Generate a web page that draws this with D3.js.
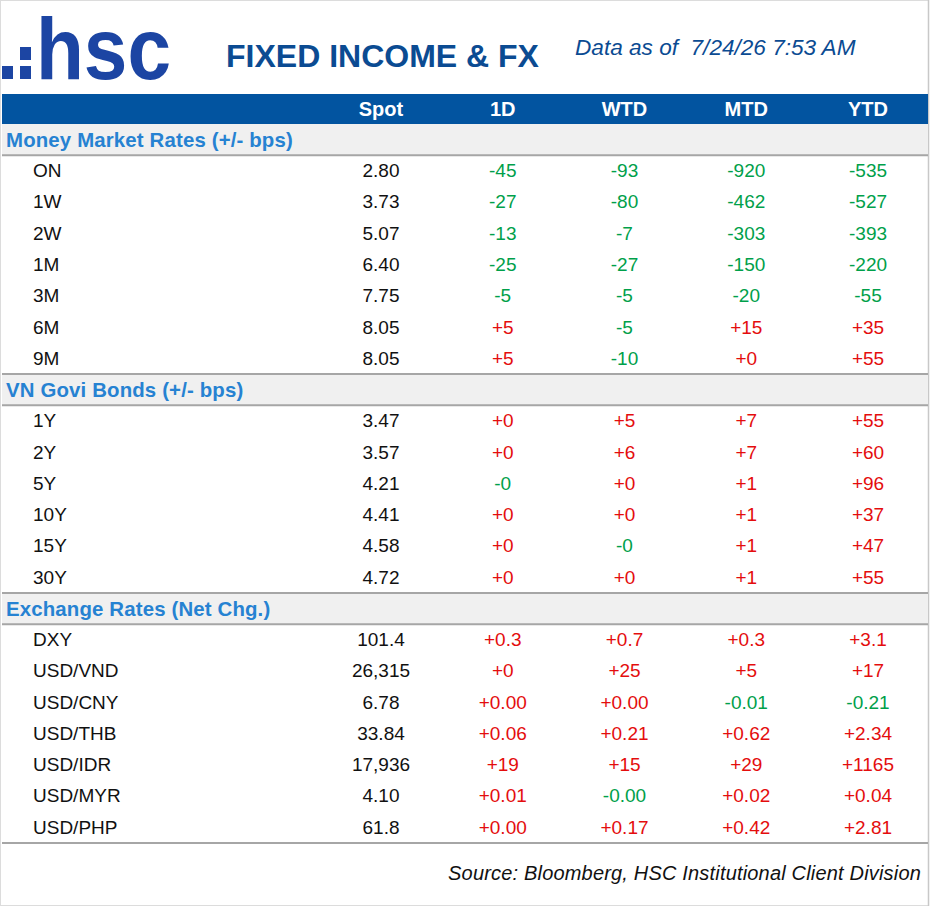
<!DOCTYPE html>
<html>
<head>
<meta charset="utf-8">
<script src="https://cdn.jsdelivr.net/npm/d3@7"></script>
<style>
  html, body { margin: 0; padding: 0; background: #fff; }
  svg { display: block; font-family: "Liberation Sans", Arial, sans-serif; }
</style>
</head>
<body>
<svg id="chart" width="931" height="908"></svg>
<script>
// ---------- DATA ----------
const title = "FIXED INCOME & FX";
const asOf = "Data as of  7/24/26 7:53 AM";
const source = "Source: Bloomberg, HSC Institutional Client Division";
const columns = ["Spot", "1D", "WTD", "MTD", "YTD"];
const sections = ["Money Market Rates (+/- bps)", "VN Govi Bonds (+/- bps)", "Exchange Rates (Net Chg.)"];

const mmTenors = ["ON", "1W", "2W", "1M", "3M", "6M", "9M"];
const mmSpot   = ["2.80", "3.73", "5.07", "6.40", "7.75", "8.05", "8.05"];
const mm1D     = ["-45", "-27", "-13", "-25", "-5", "+5", "+5"];
const mmWTD    = ["-93", "-80", "-7", "-27", "-5", "-5", "-10"];
const mmMTD    = ["-920", "-462", "-303", "-150", "-20", "+15", "+0"];
const mmYTD    = ["-535", "-527", "-393", "-220", "-55", "+35", "+55"];

const bdTenors = ["1Y", "2Y", "5Y", "10Y", "15Y", "30Y"];
const bdSpot   = ["3.47", "3.57", "4.21", "4.41", "4.58", "4.72"];
const bd1D     = ["+0", "+0", "-0", "+0", "+0", "+0"];
const bdWTD    = ["+5", "+6", "+0", "+0", "-0", "+0"];
const bdMTD    = ["+7", "+7", "+1", "+1", "+1", "+1"];
const bdYTD    = ["+55", "+60", "+96", "+37", "+47", "+55"];

const fxPairs = ["DXY", "USD/VND", "USD/CNY", "USD/THB", "USD/IDR", "USD/MYR", "USD/PHP"];
const fxSpot  = ["101.4", "26,315", "6.78", "33.84", "17,936", "4.10", "61.8"];
const fx1D    = ["+0.3", "+0", "+0.00", "+0.06", "+19", "+0.01", "+0.00"];
const fxWTD   = ["+0.7", "+25", "+0.00", "+0.21", "+15", "-0.00", "+0.17"];
const fxMTD   = ["+0.3", "+5", "-0.01", "+0.62", "+29", "+0.02", "+0.42"];
const fxYTD   = ["+3.1", "+17", "-0.21", "+2.34", "+1165", "+0.04", "+2.81"];

// ---------- BUILD ROWS ----------
function block(name, labels, spot, c1, c2, c3, c4) {
  const out = [{ type: "section", label: name }];
  labels.forEach((l, i) => out.push({ type: "row", label: l, values: [spot[i], c1[i], c2[i], c3[i], c4[i]] }));
  return out;
}
const rows = [].concat(
  block(sections[0], mmTenors, mmSpot, mm1D, mmWTD, mmMTD, mmYTD),
  block(sections[1], bdTenors, bdSpot, bd1D, bdWTD, bdMTD, bdYTD),
  block(sections[2], fxPairs, fxSpot, fx1D, fxWTD, fxMTD, fxYTD)
);
rows.forEach((r, i) => r.idx = i);

// ---------- STYLE ----------
const W = 931, H = 908;
const BLUE = "#0254a0", TITLE = "#0b4b92", SECT = "#2682d2", GREY = "#a6a6a6";
const GREEN = "#00a04a", RED = "#e40d0d";

const svg = d3.select("#chart");

const x = d3.scalePoint().domain(columns).range([381, 868]);
const y = d3.scaleBand().domain(rows.map(r => r.idx)).range([124, 843]).padding(0);
const bw = y.bandwidth();

// frame
svg.append("rect").attr("x", 0.5).attr("y", 0.5).attr("width", W - 3).attr("height", H - 3)
  .attr("fill", "#fff").attr("stroke", "#dcdcdc").attr("stroke-width", 1);
svg.append("line").attr("x1", 928.5).attr("x2", 928.5).attr("y1", 0).attr("y2", 906)
  .attr("stroke", "#c8c8c8").attr("stroke-width", 1.5);

// logo
const logo = svg.append("g").attr("fill", "#1c45a3");
[[2, 66], [20, 47], [20, 66]].forEach(([lx, ly]) =>
  logo.append("rect").attr("x", lx).attr("y", ly).attr("width", 11).attr("height", 13));
logo.append("text").attr("x", 36).attr("y", 79)
  .attr("font-size", 87).attr("font-weight", "bold")
  .attr("textLength", 135).attr("lengthAdjust", "spacingAndGlyphs")
  .text("hsc");

// title
svg.append("text").attr("x", 226).attr("y", 67)
  .attr("font-size", 32).attr("font-weight", "bold").attr("fill", TITLE).text(title);
svg.append("text").attr("x", 575).attr("y", 55).attr("xml:space", "preserve")
  .attr("font-size", 22.6).attr("font-style", "italic").attr("fill", TITLE).text(asOf);

// header bar
svg.append("rect").attr("x", 2).attr("y", 94).attr("width", 926).attr("height", 30).attr("fill", BLUE);
svg.selectAll("text.colhead").data(columns).join("text").attr("class", "colhead")
  .attr("x", d => x(d)).attr("y", 108.5).attr("dy", "0.36em")
  .attr("text-anchor", "middle").attr("font-size", 20).attr("font-weight", "bold")
  .attr("fill", "#fff").text(d => d);

// section rows
const sec = rows.filter(r => r.type === "section");
svg.selectAll("rect.sec").data(sec).join("rect").attr("class", "sec")
  .attr("x", 2).attr("width", 926).attr("y", d => y(d.idx)).attr("height", bw)
  .attr("fill", "#f0f0f0");
const lineYs = [];
sec.forEach((d, i) => {
  if (i > 0) lineYs.push(y(d.idx));
  lineYs.push(y(d.idx) + bw);
});
lineYs.push(843);
svg.selectAll("line.sep").data(lineYs).join("line").attr("class", "sep")
  .attr("x1", 2).attr("x2", 928).attr("y1", d => d).attr("y2", d => d)
  .attr("stroke", GREY).attr("stroke-width", 2);
svg.selectAll("text.sec").data(sec).join("text").attr("class", "sec")
  .attr("x", 6).attr("y", d => y(d.idx) + bw / 2).attr("dy", "0.36em")
  .attr("font-size", 20.4).attr("font-weight", "bold").attr("fill", SECT)
  .attr("letter-spacing", 0.15)
  .text(d => d.label);

// data rows
const dr = rows.filter(r => r.type === "row");
const g = svg.selectAll("g.row").data(dr).join("g").attr("class", "row")
  .attr("transform", d => `translate(0,${y(d.idx) + bw / 2 - 0.5})`);
g.append("text").attr("x", 33).attr("dy", "0.36em").attr("font-size", 19)
  .attr("fill", "#111").text(d => d.label);
g.selectAll("text.val").data(d => d.values.map((v, i) => ({ v, col: columns[i] })))
  .join("text").attr("class", "val")
  .attr("x", d => x(d.col)).attr("dy", "0.36em").attr("text-anchor", "middle")
  .attr("font-size", 19)
  .attr("fill", d => d.col === "Spot" ? "#111" : (d.v[0] === "-" ? GREEN : RED))
  .text(d => d.v);

// source
svg.append("text").attr("x", 921).attr("y", 880).attr("text-anchor", "end")
  .attr("font-size", 20).attr("font-style", "italic").attr("fill", "#111")
  .attr("letter-spacing", 0.18).text(source);
</script>
</body>
</html>
